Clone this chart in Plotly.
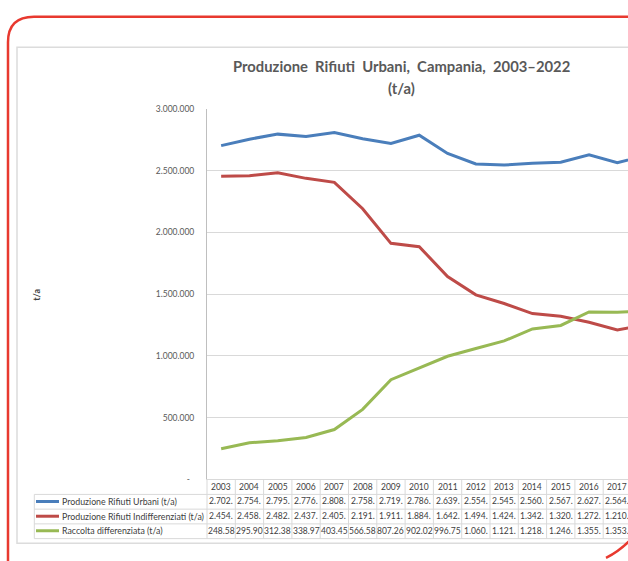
import plotly.graph_objects as go

# ---------------- data ----------------
years = [2003, 2004, 2005, 2006, 2007, 2008, 2009, 2010, 2011, 2012,
         2013, 2014, 2015, 2016, 2017, 2018]
rifiuti_urbani = [2702000, 2754000, 2795000, 2776000, 2808000, 2758000, 2719000, 2786000,
                  2639000, 2554000, 2545000, 2560000, 2567000, 2627000, 2564000, 2620000]
rifiuti_indiff = [2454000, 2458000, 2482000, 2437000, 2405000, 2191000, 1911000, 1884000,
                  1642000, 1494000, 1424000, 1342000, 1320000, 1272000, 1210000, 1250000]
raccolta_diff = [248580, 295900, 312380, 338970, 403450, 566580, 807260, 902020,
                 996750, 1060000, 1121000, 1218000, 1246000, 1355000, 1353000, 1362000]
series_names = ["Produzione Rifiuti Urbani (t/a)",
                "Produzione Rifiuti Indifferenziati (t/a)",
                "Raccolta differenziata (t/a)"]
series_values = [rifiuti_urbani, rifiuti_indiff, raccolta_diff]
series_colors = ["#4a7ebb", "#be4b48", "#98b954"]
y_tickvals = [0, 500000, 1000000, 1500000, 2000000, 2500000, 3000000]
y_ticktext = ["-\u00a0\u00a0", "500.000", "1.000.000", "1.500.000", "2.000.000", "2.500.000", "3.000.000"]
title_line1 = "Produzione  Rifiuti  Urbani,  Campania,  2003–2022"
title_line2 = "(t/a)"
y_title = "t/a"

# ---------------- layout helpers ----------------
W, H = 628, 561
PLOT_L, PLOT_T, PLOT_B = 207, 105.7, 483
COL_W = 28.3
FONT = "Lato, 'Open Sans', sans-serif"


def px(x):
    return x / W


def py(y):
    return 1 - y / H


def col_edge(k):
    return PLOT_L + k * COL_W


def fmt(v):
    s = f"{int(round(v)):,}".replace(",", ".")
    return s[:6]


fig = go.Figure()
for name, vals, col in zip(series_names, series_values, series_colors):
    fig.add_trace(go.Scatter(x=years, y=vals, mode="lines", name=name,
                             line=dict(color=col, width=3), showlegend=False,
                             hoverinfo="skip"))

shapes = []
ann = []

# outer red rounded frame
r = 26
shapes.append(dict(type="path", xref="paper", yref="paper",
                   path=f"M {px(8)},{py(570)} L {px(8)},{py(12 + r)} Q {px(8)},{py(12)} {px(8 + r)},{py(12)} L {px(640)},{py(12)}",
                   line=dict(color="#e8392f", width=2.5), layer="above"))
shapes.append(dict(type="path", xref="paper", yref="paper",
                   path=f"M {px(606)},{py(563)} Q {px(620)},{py(556)} {px(632)},{py(543)}",
                   line=dict(color="#e8392f", width=2.5), layer="above"))
# inner chart frame
shapes.append(dict(type="rect", xref="paper", yref="paper",
                   x0=px(17), y0=py(548), x1=px(660), y1=py(43),
                   line=dict(color="#dcdcdc", width=1.5), layer="below"))

# data table
row_lines = [498.3, 513.3, 528.3, 543.3]
row_centers = [505.5, 520.5, 535.3]
grid_col = "#d9d9d9"
for yl in row_lines:
    shapes.append(dict(type="line", xref="paper", yref="paper",
                       x0=px(34.3), x1=px(660), y0=py(yl), y1=py(yl),
                       line=dict(color=grid_col, width=1)))
shapes.append(dict(type="line", xref="paper", yref="paper",
                   x0=px(34.3), x1=px(34.3), y0=py(498.3), y1=py(543.3),
                   line=dict(color=grid_col, width=1)))
for k in range(0, len(years) + 1):
    xe = col_edge(k)
    if xe > W + 5:
        break
    shapes.append(dict(type="line", xref="paper", yref="paper",
                       x0=px(xe), x1=px(xe), y0=py(PLOT_B), y1=py(543.3),
                       line=dict(color=grid_col, width=1)))

for yr in years:
    ann.append(dict(x=yr, xref="x", y=py(491), yref="paper", text=str(yr),
                    showarrow=False, font=dict(family=FONT, size=8.5, color="#404040"),
                    xanchor="center", yanchor="middle"))
for i, (name, vals, col) in enumerate(zip(series_names, series_values, series_colors)):
    yc = row_centers[i]
    shapes.append(dict(type="line", xref="paper", yref="paper",
                       x0=px(36), x1=px(59), y0=py(yc), y1=py(yc),
                       line=dict(color=col, width=3)))
    ann.append(dict(x=px(60), xref="paper", y=py(yc), yref="paper", text=name,
                    showarrow=False, font=dict(family=FONT, size=8.8, color="#404040"),
                    xanchor="left", yanchor="middle"))
    for yr, v in zip(years, vals):
        ann.append(dict(x=yr, xref="x", y=py(yc), yref="paper", text=fmt(v),
                        showarrow=False, font=dict(family=FONT, size=8.5, color="#404040"),
                        xanchor="center", yanchor="middle"))

# titles
ann.append(dict(x=px(401.5), y=py(62), xref="paper", yref="paper",
                text=f"<b>{title_line1}</b>", showarrow=False,
                font=dict(family=FONT, size=14.8, color="#595959"),
                xanchor="center", yanchor="middle"))
ann.append(dict(x=px(401.5), y=py(84), xref="paper", yref="paper",
                text=f"<b>{title_line2}</b>", showarrow=False,
                font=dict(family=FONT, size=14.8, color="#595959"),
                xanchor="center", yanchor="middle"))
ann.append(dict(x=px(37), y=py(295), xref="paper", yref="paper",
                text=f"<b>{y_title}</b>", showarrow=False, textangle=-90,
                font=dict(family=FONT, size=9, color="#404040"),
                xanchor="center", yanchor="middle"))

fig.update_layout(
    width=W, height=H,
    margin=dict(l=0, r=0, t=0, b=0),
    paper_bgcolor="white", plot_bgcolor="white",
    xaxis=dict(domain=[px(PLOT_L), 1], range=[2002.5, 2002.5 + (W - PLOT_L) / COL_W],
               showgrid=False, zeroline=False, showticklabels=False,
               showline=True, linecolor=grid_col, linewidth=1, ticks=""),
    yaxis=dict(domain=[py(PLOT_B), py(PLOT_T)], range=[0, 3000000],
               tickvals=y_tickvals, ticktext=y_ticktext,
               showgrid=True, gridcolor=grid_col, gridwidth=1, zeroline=False,
               showline=True, linecolor="#bfbfbf", linewidth=1, ticks="",
               ticklabelstandoff=10,
               tickfont=dict(family=FONT, size=8.5, color="#595959")),
    shapes=shapes, annotations=ann,
)

fig.write_html("out.html", config={"displayModeBar": False, "staticPlot": True},
               post_script="document.body.style.margin='0';document.body.style.overflow='hidden';")
